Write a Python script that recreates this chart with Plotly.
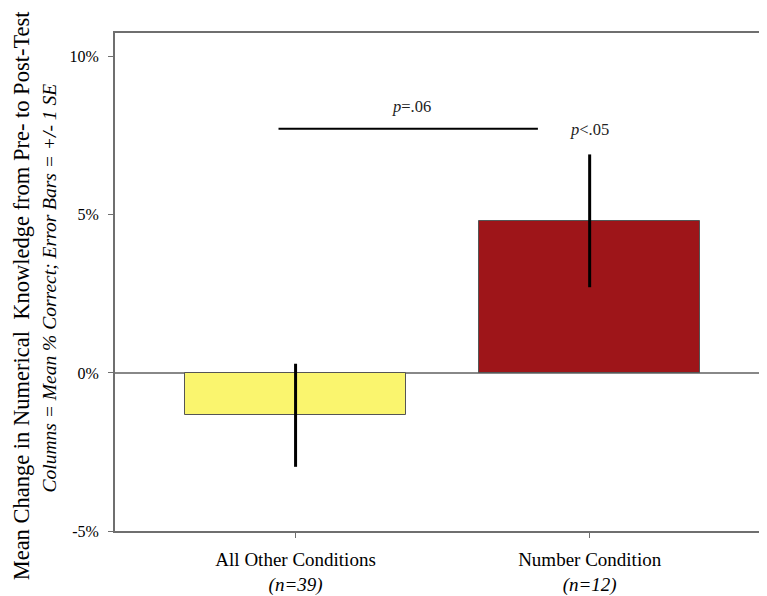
import plotly.graph_objects as go

categories = ["All Other Conditions", "Number Condition"]
group_n = ["(n=39)", "(n=12)"]
means = [-1.34, 4.81]
se = [1.63, 2.10]
bar_colors = ["#FAF56E", "#9E1519"]

y_ticks = [-5, 0, 5, 10]
y_range = [-5, 10.75]

bracket_x = [-0.058, 0.824]
bracket_y = 7.72
p_bracket = "<i>p</i>=.06"
p_bracket_pos = (0.393, 8.44)
p_single = "<i>p</i><.05"
p_single_pos = (1.0, 7.69)

FONT = "Liberation Serif"
x_pos = list(range(len(categories)))

fig = go.Figure()
fig.add_trace(go.Bar(
    x=x_pos, y=means, width=0.752,
    marker=dict(color=bar_colors, line=dict(color="#555555", width=1)),
    error_y=dict(type="data", array=se, visible=True, color="black", thickness=3, width=0),
    showlegend=False,
))

fig.add_shape(type="line", xref="x", yref="y",
              x0=bracket_x[0], x1=bracket_x[1], y0=bracket_y, y1=bracket_y,
              line=dict(color="black", width=2))

fig.add_annotation(x=p_bracket_pos[0], y=p_bracket_pos[1], text=p_bracket, showarrow=False,
                   font=dict(family=FONT, size=16.5, color="#222"))
fig.add_annotation(x=p_single_pos[0], y=p_single_pos[1], text=p_single, showarrow=False,
                   font=dict(family=FONT, size=16.5, color="#222"))

fig.add_annotation(xref="paper", yref="paper", x=-0.142, y=0.474, xanchor="center", yanchor="middle",
                   text="Mean Change in Numerical  Knowledge from Pre- to Post-Test",
                   textangle=-90, showarrow=False, font=dict(family=FONT, size=22.5, color="black"))
fig.add_annotation(xref="paper", yref="paper", x=-0.099, y=0.488, xanchor="center", yanchor="middle",
                   text="<i>Columns = Mean % Correct; Error Bars = +/- 1 SE</i>",
                   textangle=-90, showarrow=False, font=dict(family=FONT, size=19.5, color="black"))

ticktext = [f"{c}<br><i>{n}</i>" for c, n in zip(categories, group_n)]

fig.update_layout(
    width=759, height=588,
    margin=dict(l=107, r=0, t=25, b=57),
    plot_bgcolor="white", paper_bgcolor="white",
    font=dict(family=FONT, color="black"),
    xaxis=dict(range=[-0.614, 1.603], tickvals=x_pos, ticktext=ticktext,
               showline=True, linecolor="#6f6f6f", linewidth=2, mirror=True,
               ticks="outside", ticklen=5, tickcolor="#6f6f6f", ticklabelstandoff=5,
               showgrid=False, zeroline=False, tickfont=dict(family=FONT, size=19)),
    yaxis=dict(range=y_range, tickvals=y_ticks, ticktext=[f"{v}%" for v in y_ticks],
               showline=True, linecolor="#6f6f6f", linewidth=2,
               ticks="outside", ticklen=5, tickcolor="#6f6f6f", ticklabelstandoff=6,
               showgrid=False, zeroline=True, zerolinecolor="#888888", zerolinewidth=1.5,
               tickfont=dict(family=FONT, size=16)),
    bargap=0,
)

fig.write_html("out.html")
